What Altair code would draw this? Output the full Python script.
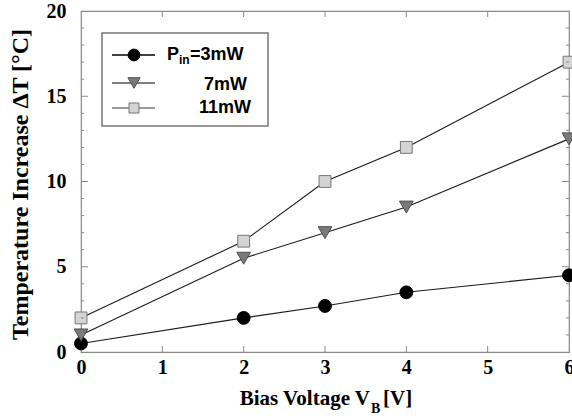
import altair as alt
import pandas as pd

# Measured temperature rise vs. bias voltage for three input powers
bias_v = [0, 2, 3, 4, 6]
dt_3mw = [0.5, 2.0, 2.7, 3.5, 4.5]
dt_7mw = [1.0, 5.5, 7.0, 8.5, 12.5]
dt_11mw = [2.0, 6.5, 10.0, 12.0, 17.0]

x_ticks = [0, 1, 2, 3, 4, 5, 6]
y_ticks = [0, 5, 10, 15, 20]
y_minor = [v for v in range(1, 20) if v % 5 != 0]
y_major = [5, 10, 15]
x_inner = [1, 2, 3, 4, 5]

W, H = 488, 341
SERIF = "Liberation Serif"
SANS = "Liberation Sans"
FRAME = "#888888"

df = pd.concat([
    pd.DataFrame({"V": bias_v, "dT": dt_3mw, "s": "3mW"}),
    pd.DataFrame({"V": bias_v, "dT": dt_7mw, "s": "7mW"}),
    pd.DataFrame({"V": bias_v, "dT": dt_11mw, "s": "11mW"}),
])

xs = alt.Scale(domain=[0, 6], nice=False, zero=False)
ys = alt.Scale(domain=[0, 20], nice=False, zero=False)

X = alt.X("V:Q", scale=xs,
          axis=alt.Axis(values=x_ticks, ticks=False, domain=False, grid=False,
                        title=None, labelPadding=5, format="d", labelFlush=False,
                        labelFontWeight="bold"))
Y = alt.Y("dT:Q", scale=ys,
          axis=alt.Axis(values=y_ticks, ticks=False, domain=False, grid=False,
                        title=None, labelPadding=15, format="d", labelFlush=False,
                        labelFontWeight="bold"))

base = alt.Chart(df)

lines = base.mark_line(color="#1a1a1a", strokeWidth=1.1).encode(
    x=X, y=Y, detail="s:N")

styles = {
    "3mW": dict(shape="circle", fill="#000000", stroke="#000000", size=165),
    "7mW": dict(shape="triangle-down", fill="#7a7a7a", stroke="#505050", size=190),
    "11mW": dict(shape="square", fill="#d4d4d4", stroke="#777777", size=140),
}
points = [
    base.transform_filter(alt.datum.s == name).mark_point(
        filled=False, opacity=1, strokeWidth=1, **st).encode(x=X, y=Y)
    for name, st in styles.items()
]

# Inward tick marks on all four sides
def xtick_layer(vals, y0, y1):
    return alt.Chart(pd.DataFrame({"V": vals})).mark_rule(
        color=FRAME, strokeWidth=1).encode(
        x=alt.X("V:Q", scale=xs), y=alt.value(y0), y2=alt.value(y1))

def ytick_layer(vals, x0, x1):
    return alt.Chart(pd.DataFrame({"dT": vals})).mark_rule(
        color=FRAME, strokeWidth=1).encode(
        y=alt.Y("dT:Q", scale=ys), x=alt.value(x0), x2=alt.value(x1))

ticks = [
    xtick_layer(x_inner, H, H - 6),
    xtick_layer(x_inner, 0, 6),
    ytick_layer(y_minor, 0, 3),
    ytick_layer(y_major, 0, 7),
    ytick_layer(y_minor, W, W - 3),
    ytick_layer(y_major, W, W - 7),
]

one = pd.DataFrame({"k": [0]})

def text(t, x, y, size, font=SERIF, align="left", baseline="alphabetic", angle=0):
    return alt.Chart(one).mark_text(
        text=t, font=font, fontSize=size, fontWeight="bold", color="#000000",
        align=align, baseline=baseline, angle=angle).encode(
        x=alt.value(x), y=alt.value(y))

titles = [
    text("Bias Voltage V", 289, 394, 21, align="right"),
    text("B", 290, 402, 14),
    text("[V]", 302, 394, 21),
    text("Temperature Increase ΔT [°C]", -60, 173.5, 24,
         align="center", baseline="middle", angle=270),
]

# Legend box with line-through-marker symbols
legend_box = alt.Chart(one).mark_rect(
    fill="white", stroke="#777777", strokeWidth=1.5).encode(
    x=alt.value(21), x2=alt.value(187), y=alt.value(22), y2=alt.value(115))

legend_rows = [
    ("3mW", 44, "#000000", dict(shape="circle", fill="#000000", stroke="#000000", size=140)),
    ("7mW", 72, "#555555", dict(shape="triangle-down", fill="#7a7a7a", stroke="#505050", size=150)),
    ("11mW", 97, "#777777", dict(shape="square", fill="#d4d4d4", stroke="#777777", size=100)),
]
legend = [legend_box]
for name, yy, lc, st in legend_rows:
    legend.append(alt.Chart(one).mark_rule(color=lc, strokeWidth=1.3).encode(
        x=alt.value(31), x2=alt.value(74), y=alt.value(yy)))
    legend.append(alt.Chart(one).mark_point(
        filled=False, opacity=1, strokeWidth=1, **st).encode(
        x=alt.value(53), y=alt.value(yy)))

legend += [
    text("P", 86, 49, 18, font=SANS),
    text("in", 98, 53, 12, font=SANS),
    text("=3mW", 109, 49, 18, font=SANS),
    text("7mW", 166, 79, 18, font=SANS, align="right"),
    text("11mW", 170, 102, 18, font=SANS, align="right"),
]

chart = alt.layer(lines, *points, *ticks, *titles, *legend).properties(
    width=W, height=H,
    autosize=alt.AutoSizeParams(type="none"),
    padding={"left": 81, "top": 11, "right": 3, "bottom": 67},
).configure_view(
    stroke=FRAME, strokeWidth=1.2
).configure_axis(
    labelFont=SERIF, labelFontSize=20, labelFontWeight="bold", labelColor="#000000"
)

chart.save("out.html", embed_options={"renderer": "svg", "actions": False})
